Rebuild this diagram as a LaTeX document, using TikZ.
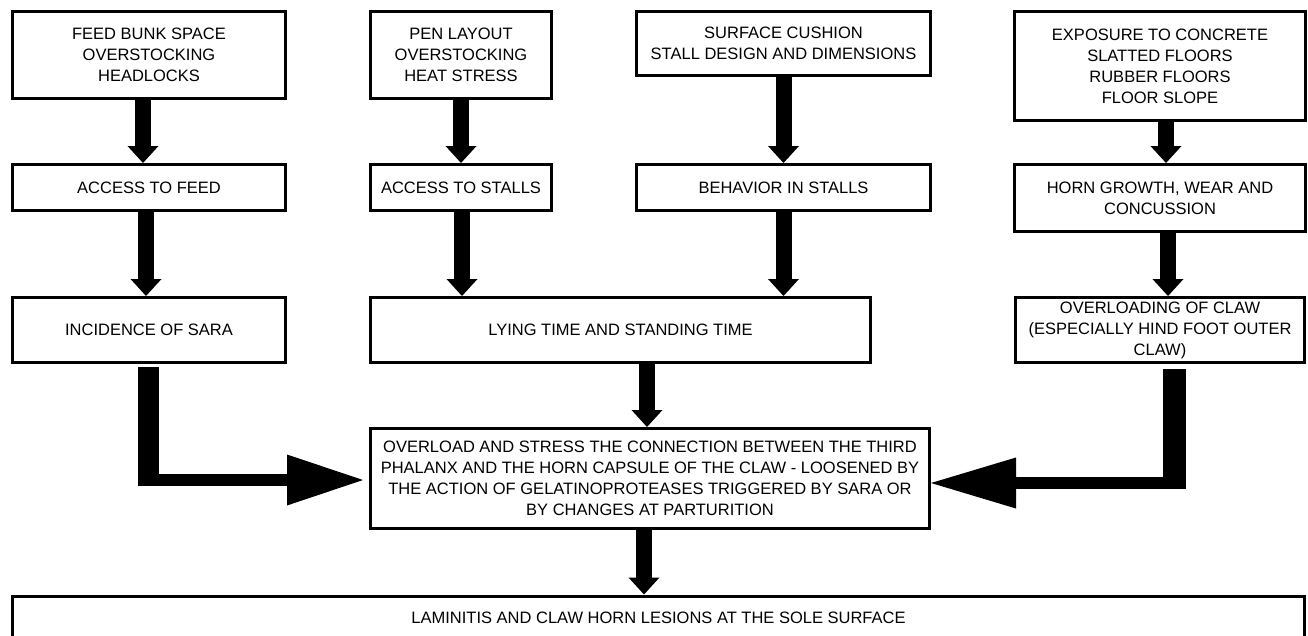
\documentclass[tikz,border=0pt]{standalone}
\usepackage{fontspec}
\setmainfont{Liberation Sans}
\usetikzlibrary{arrows.meta}
\usetikzlibrary{positioning}
\tikzset{box/.style={ % every box of the chart
           draw,
           line width=3pt,
           align=center,
           inner sep=0pt,
           font=\fontsize{16.5pt}{21pt}\selectfont},
         fat/.style={     % thick black arrows between boxes
           line width=16pt,
           -{Triangle[width=31pt,length=17pt,line width=0pt]}}}

\begin{document}
\begin{tikzpicture}[x=1pt,y=-1pt]
\useasboundingbox (0,0) rectangle (1308,635);
\clip (0,0) rectangle (1308,635);

\begin{scope}[every node/.style={box}]
    \node[minimum width=273pt, minimum height=87pt] (A) at (149,55) {FEED BUNK SPACE\\OVERSTOCKING\\HEADLOCKS};
    \node[minimum width=181pt, minimum height=87pt] (B) at (461,55) {PEN LAYOUT\\OVERSTOCKING\\HEAT STRESS};
    \node[minimum width=294pt, minimum height=64pt] (C) at (783.5,43.5) {SURFACE CUSHION\\STALL DESIGN AND DIMENSIONS};
    \node[minimum width=291pt, minimum height=109pt] (D) at (1160,66) {EXPOSURE TO CONCRETE\\SLATTED FLOORS\\RUBBER FLOORS\\FLOOR SLOPE};

    \node[minimum width=273pt, minimum height=46pt] (E) at (149,187.5) {ACCESS TO FEED};
    \node[minimum width=181pt, minimum height=46pt] (F) at (461,187.5) {ACCESS TO STALLS};
    \node[minimum width=294pt, minimum height=46pt] (G) at (783.5,187.5) {BEHAVIOR IN STALLS};
    \node[minimum width=291pt, minimum height=67pt] (H) at (1160,198) {HORN GROWTH, WEAR AND\\CONCUSSION};

    \node[minimum width=273pt, minimum height=65pt] (I) at (149,330) {INCIDENCE OF SARA};
    \node[minimum width=500pt, minimum height=65pt] (J) at (620.5,330) {LYING TIME AND STANDING TIME};
    \node[minimum width=289pt, minimum height=65pt] (K) at (1160,330) {OVERLOADING OF CLAW\\(ESPECIALLY HIND FOOT OUTER\\CLAW)};

    \node[minimum width=559pt, minimum height=100pt] (L) at (650,478.5) {OVERLOAD AND STRESS THE CONNECTION BETWEEN THE THIRD\\PHALANX AND THE HORN CAPSULE OF THE CLAW - LOOSENED BY\\THE ACTION OF GELATINOPROTEASES TRIGGERED BY SARA OR\\BY CHANGES AT PARTURITION};
    % bottom edge runs off the page
    \node[minimum width=1292pt, text height=27pt, text depth=21pt, anchor=north] (M) at (658.5,594.5) {LAMINITIS AND CLAW HORN LESIONS AT THE SOLE SURFACE};
\end{scope}

% straight arrows
\draw[fat] ([xshift=-6pt]A.south) -- ([xshift=-6pt]E.north);
\draw[fat] ([xshift=-3pt]E.south) -- ([xshift=-3pt]I.north);
\draw[fat] (B.south) -- (F.north);
\draw[fat] ([xshift=1pt]F.south) -- ([xshift=1pt]F.south |- J.north);
\draw[fat] (C.south) -- (G.north);
\draw[fat] (G.south) -- (G.south |- J.north);
\draw[fat] ([xshift=6pt]D.south) -- ([xshift=6pt]H.north);
\draw[fat] ([xshift=8pt]H.south) -- ([xshift=8pt]K.north);
\draw[fat] ([xshift=-3pt]L.north |- J.south) -- ([xshift=-3pt]L.north);
\draw[fat] ([xshift=-6pt]L.south) -- ([xshift=-6pt]L.south |- M.north);

% bent arrows into the middle box
\coordinate (Ibend) at (148.5,480);
\coordinate (Kbend) at (1174.5,483);
\draw[line width=21pt, shorten <=3pt, shorten >=-6pt] (Ibend |- I.south) -- (Ibend);
\draw[line width=12pt, -{Triangle[width=51pt,length=76pt,line width=0pt]}, shorten >=6pt]
    ([xshift=-10.5pt]Ibend) -- (Ibend -| L.west);
\draw[line width=23pt, shorten <=5pt, shorten >=-6pt] (Kbend |- K.south) -- (Kbend);
\draw[line width=12pt, -{Triangle[width=51pt,length=85pt,line width=0pt]}]
    ([xshift=11.5pt]Kbend) -- (Kbend -| L.east);
\end{tikzpicture}
\end{document}
